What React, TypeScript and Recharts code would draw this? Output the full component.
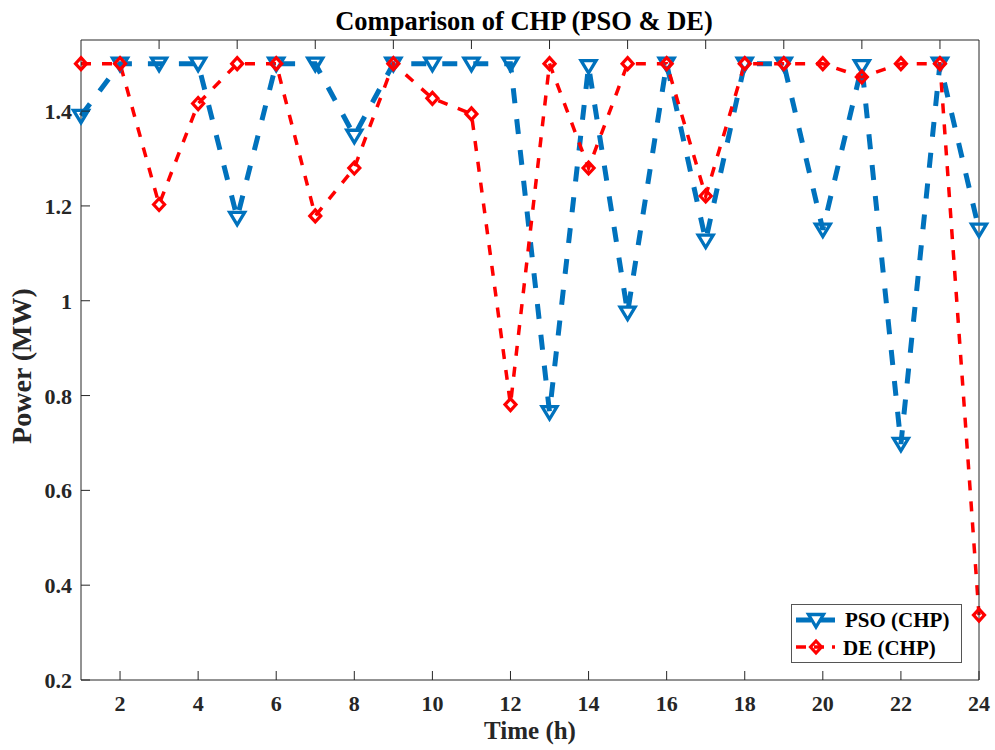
import React from 'react';
import { LineChart, Line, XAxis, YAxis, Legend } from 'recharts';

const hours = [1, 2, 3, 4, 5, 6, 7, 8, 9, 10, 11, 12, 13, 14, 15, 16, 17, 18, 19, 20, 21, 22, 23, 24];
const psoCHP = [1.39, 1.5, 1.5, 1.5, 1.175, 1.5, 1.5, 1.348, 1.5, 1.5, 1.5, 1.5, 0.765, 1.495, 0.975, 1.5, 1.127, 1.5, 1.5, 1.15, 1.495, 0.698, 1.5, 1.15];
const deCHP = [1.5, 1.5, 1.203, 1.416, 1.5, 1.5, 1.179, 1.28, 1.5, 1.427, 1.394, 0.781, 1.5, 1.28, 1.5, 1.5, 1.221, 1.5, 1.5, 1.5, 1.472, 1.5, 1.5, 0.337];
const xTicks = [2, 4, 6, 8, 10, 12, 14, 16, 18, 20, 22, 24];
const yTicks = [0.2, 0.4, 0.6, 0.8, 1, 1.2, 1.4];
const seriesNames = ['PSO (CHP)', 'DE (CHP)'];

const data = hours.map((h, i) => ({ h, pso: psoCHP[i], de: deCHP[i] }));

const AX = '#262626';
const BLUE = '#0072BD';
const RED = '#FF0000';
const FONT = '"Liberation Serif", "Times New Roman", serif';
const TICK = 9;

const Tri = ({ cx, cy }: { cx: number; cy: number }) => (
  <path
    d={`M${cx - 7.5},${cy - 5.5} L${cx + 7.5},${cy - 5.5} L${cx},${cy + 7} Z`}
    fill="none"
    stroke={BLUE}
    strokeWidth={3.3}
  />
);

const Dia = ({ cx, cy }: { cx: number; cy: number }) => (
  <path
    d={`M${cx},${cy - 6} L${cx + 5.5},${cy} L${cx},${cy + 6} L${cx - 5.5},${cy} Z`}
    fill="none"
    stroke={RED}
    strokeWidth={3.2}
  />
);

const BottomTick = (props: any) => {
  const { x, y, payload } = props;
  return (
    <g>
      <line x1={x} y1={y} x2={x} y2={y - TICK} stroke={AX} strokeWidth={1} />
      <text x={x} y={y + 31} textAnchor="middle" fontFamily={FONT} fontWeight="bold" fontSize={22} fill={AX}>
        {payload.value}
      </text>
    </g>
  );
};

const TopTick = (props: any) => {
  const { x, y } = props;
  return <line x1={x} y1={y} x2={x} y2={y + TICK} stroke={AX} strokeWidth={1} />;
};

const LeftTick = (props: any) => {
  const { x, y, payload } = props;
  return (
    <g>
      <line x1={x} y1={y} x2={x + TICK} y2={y} stroke={AX} strokeWidth={1} />
      <text x={x - 9} y={y + 8} textAnchor="end" fontFamily={FONT} fontWeight="bold" fontSize={22} fill={AX}>
        {String(payload.value)}
      </text>
    </g>
  );
};

const RightTick = (props: any) => {
  const { x, y } = props;
  return <line x1={x} y1={y} x2={x - TICK} y2={y} stroke={AX} strokeWidth={1} />;
};

const LegendBox = () => (
  <svg width={172} height={60} style={{ display: 'block' }}>
    <rect x={0.5} y={0.5} width={170} height={58} fill="#ffffff" stroke="#555555" strokeWidth={1} />
    <line x1={5} y1={16} x2={44} y2={16} stroke={BLUE} strokeWidth={5} strokeDasharray="15 9" />
    <Tri cx={25} cy={16} />
    <text x={54} y={23} fontFamily={FONT} fontWeight="bold" fontSize={21} fill="#000">
      {seriesNames[0]}
    </text>
    <line x1={5} y1={43} x2={44} y2={43} stroke={RED} strokeWidth={3.5} strokeDasharray="10 8" />
    <Dia cx={25} cy={43} />
    <text x={52} y={51} fontFamily={FONT} fontWeight="bold" fontSize={21} fill="#000">
      {seriesNames[1]}
    </text>
  </svg>
);

export default function App() {
  return (
    <div style={{ position: 'absolute', left: 0, top: 0, width: 995, height: 750, background: '#fff' }}>
      <LineChart width={995} height={750} data={data} margin={{ top: 0, right: 0, bottom: 0, left: 0 }}>
        <XAxis
          dataKey="h"
          type="number"
          domain={[1, 24]}
          ticks={xTicks}
          interval={0}
          height={70}
          axisLine={{ stroke: AX, strokeWidth: 1 }}
          tickLine={false}
          tickSize={0}
          tickMargin={0}
          tick={<BottomTick />}
        />
        <XAxis
          xAxisId="top"
          orientation="top"
          type="number"
          domain={[1, 24]}
          ticks={xTicks}
          interval={0}
          height={40}
          axisLine={{ stroke: AX, strokeWidth: 1 }}
          tickLine={false}
          tickSize={0}
          tickMargin={0}
          tick={<TopTick />}
        />
        <YAxis
          type="number"
          domain={[0.2, 1.55]}
          ticks={yTicks}
          interval={0}
          width={81}
          axisLine={{ stroke: AX, strokeWidth: 1 }}
          tickLine={false}
          tickSize={0}
          tickMargin={0}
          tick={<LeftTick />}
        />
        <YAxis
          yAxisId="right"
          orientation="right"
          type="number"
          domain={[0.2, 1.55]}
          ticks={yTicks}
          interval={0}
          width={16}
          axisLine={{ stroke: AX, strokeWidth: 1 }}
          tickLine={false}
          tickSize={0}
          tickMargin={0}
          tick={<RightTick />}
        />
        <Legend
          layout="vertical"
          align="center"
          verticalAlign="middle"
          wrapperStyle={{ position: 'absolute', left: 791, top: 604, width: 172, height: 60 }}
          content={() => <LegendBox />}
        />
        <Line
          dataKey="pso"
          name={seriesNames[0]}
          stroke={BLUE}
          strokeWidth={5}
          strokeDasharray="15 16"
          isAnimationActive={false}
          dot={(p: any) => <Tri key={`t${p.index}`} cx={p.cx} cy={p.cy} />}
          activeDot={false}
        />
        <Line
          dataKey="de"
          name={seriesNames[1]}
          stroke={RED}
          strokeWidth={3.5}
          strokeDasharray="10 11"
          isAnimationActive={false}
          dot={(p: any) => <Dia key={`d${p.index}`} cx={p.cx} cy={p.cy} />}
          activeDot={false}
        />
      </LineChart>
      <div
        style={{
          position: 'absolute',
          left: 0,
          top: 0,
          width: 995,
          height: 750,
          pointerEvents: 'none',
        }}
      >
        <svg width={995} height={750}>
          <text x={524} y={30} textAnchor="middle" fontFamily={FONT} fontWeight="bold" fontSize={26.5} fill="#000">
            Comparison of CHP (PSO &amp; DE)
          </text>
          <text x={530} y={739} textAnchor="middle" fontFamily={FONT} fontWeight="bold" fontSize={25} fill={AX}>
            Time (h)
          </text>
          <text
            x={31}
            y={366}
            textAnchor="middle"
            transform="rotate(-90 31 366)"
            fontFamily={FONT}
            fontWeight="bold"
            fontSize={28}
            fill={AX}
          >
            Power (MW)
          </text>
        </svg>
      </div>
    </div>
  );
}
